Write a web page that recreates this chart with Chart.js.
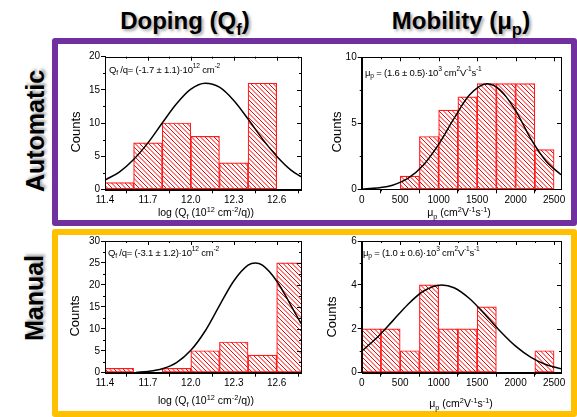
<!DOCTYPE html>
<html>
<head>
<meta charset="utf-8">
<script src="https://cdn.jsdelivr.net/npm/chart.js@4.4.0/dist/chart.umd.min.js"></script>
<style>
  body { margin:0; width:577px; height:417px; background:#fff; position:relative; overflow:hidden;
         font-family: "Liberation Sans", Arial, sans-serif; color:#000; }
  .abs { position:absolute; white-space:nowrap; }
  .frame { position:absolute; box-sizing:border-box; border-radius:3px; }
  #frameAuto { left:52px; top:38px; width:525px; height:188px; border:6px solid #7030a0; }
  #frameManual { left:52px; top:229px; width:525px; height:188px; border:6px solid #ffc000; }
  .colTitle { font-weight:bold; font-size:24px; text-shadow:2px 2px 3px rgba(0,0,0,0.35); transform:translate(-50%,-50%); }
  .rowTitle { font-weight:bold; font-size:25px; text-shadow:2px 2px 3px rgba(0,0,0,0.35); transform:translate(-50%,-50%) rotate(-90deg); }
  .counts { font-size:13px; transform:translate(-50%,-50%) rotate(-90deg); }
  .xtitle { font-size:10.5px; transform:translate(-50%,-50%); }
  .note { font-size:9.5px; letter-spacing:-0.2px; transform:translateY(-50%); }
  sub, sup { font-size:70%; line-height:0; }
  canvas { position:absolute; }
</style>
</head>
<body>
<div class="frame" id="frameAuto"></div>
<div class="frame" id="frameManual"></div>

<div class="abs colTitle" style="left:185px; top:21px;">Doping (Q<sub>f</sub>)</div>
<div class="abs colTitle" style="left:461px; top:21px;">Mobility (μ<sub>p</sub>)</div>
<div class="abs rowTitle" style="left:35px; top:131px;">Automatic</div>
<div class="abs rowTitle" style="left:34px; top:298px;">Manual</div>

<canvas id="dopingAuto" width="245" height="176" style="left:60px; top:46px;"></canvas>
<canvas id="mobilityAuto" width="250" height="176" style="left:320px; top:46px;"></canvas>
<canvas id="dopingManual" width="245" height="176" style="left:60px; top:234px;"></canvas>
<canvas id="mobilityManual" width="250" height="176" style="left:320px; top:234px;"></canvas>

<div class="abs counts" style="left:75px; top:132px;">Counts</div>
<div class="abs counts" style="left:336px; top:132px;">Counts</div>
<div class="abs counts" style="left:74px; top:316px;">Counts</div>
<div class="abs counts" style="left:331px; top:317px;">Counts</div>

<div class="abs xtitle" style="left:206px; top:212px;">log (Q<sub>f</sub> (10<sup>12</sup> cm<sup>-2</sup>/q))</div>
<div class="abs xtitle" style="left:459px; top:212px;">μ<sub>p</sub> (cm<sup>2</sup>V<sup>-1</sup>s<sup>-1</sup>)</div>
<div class="abs xtitle" style="left:206px; top:400px;">log (Q<sub>f</sub> (10<sup>12</sup> cm<sup>-2</sup>/q))</div>
<div class="abs xtitle" style="left:461px; top:403px;">μ<sub>p</sub> (cm<sup>2</sup>V<sup>-1</sup>s<sup>-1</sup>)</div>

<div class="abs note" style="left:109px; top:69px;">Q<sub>f</sub> /q= (-1.7 ± 1.1)·10<sup>12</sup> cm<sup>-2</sup></div>
<div class="abs note" style="left:365px; top:72px;">μ<sub>p</sub> = (1.6 ± 0.5)·10<sup>3</sup> cm<sup>2</sup>V<sup>-1</sup>s<sup>-1</sup></div>
<div class="abs note" style="left:108px; top:252px;">Q<sub>f</sub> /q= (-3.1 ± 1.2)·10<sup>12</sup> cm<sup>-2</sup></div>
<div class="abs note" style="left:363px; top:252px;">μ<sub>p</sub> = (1.0 ± 0.6)·10<sup>3</sup> cm<sup>2</sup>V<sup>-1</sup>s<sup>-1</sup></div>

<script>
// histogram bins (centres), 0.2 wide for doping, 250 wide for mobility
const dopingBins = [11.5, 11.7, 11.9, 12.1, 12.3, 12.5, 12.7];
const mobilityBins = [125, 375, 625, 875, 1125, 1375, 1625, 1875, 2125, 2375];

// counts per bin
const dopingAutoCounts = [1, 7, 10, 8, 4, 16, null];
const dopingManualCounts = [1, null, 1, 5, 7, 4, 25];
const mobilityAutoCounts = [null, null, 1, 4, 6, 7, 8, 8, 8, 3];
const mobilityManualCounts = [2, 2, 1, 4, 2, 2, 3, null, null, 1];

// fitted gaussian curves
const dopingAutoFitX = [11.4, 11.5, 11.6, 11.7, 11.8, 11.9, 12.0, 12.1, 12.2, 12.3, 12.4, 12.5, 12.6, 12.7, 12.77];
const dopingAutoFitY = [1.4, 2.6, 4.5, 7.0, 10.0, 12.9, 15.1, 16.0, 15.4, 13.4, 10.6, 7.6, 5.0, 2.9, 1.9];
const dopingManualFitX = [11.62, 11.7, 11.8, 11.9, 12.0, 12.1, 12.2, 12.3, 12.4, 12.45, 12.5, 12.6, 12.7, 12.77];
const dopingManualFitY = [0.1, 0.3, 0.9, 2.3, 5.1, 9.5, 15.3, 20.9, 24.5, 25.0, 24.5, 20.9, 15.3, 11.2];
const mobilityAutoFitX = [0, 200, 400, 600, 800, 1000, 1200, 1400, 1630, 1800, 2000, 2200, 2400, 2590];
const mobilityAutoFitY = [0.03, 0.1, 0.31, 0.82, 1.82, 3.4, 5.37, 7.14, 8.0, 7.52, 5.96, 3.8, 2.1, 1.1];
const mobilityManualFitX = [0, 200, 400, 600, 800, 1040, 1200, 1400, 1600, 1800, 2000, 2200, 2400, 2590];
const mobilityManualFitY = [0.98, 1.6, 2.35, 3.11, 3.71, 4.0, 3.87, 3.38, 2.66, 1.89, 1.21, 0.7, 0.36, 0.18];

// axis ticks
const dopingTicks = [11.4, 11.7, 12.0, 12.3, 12.6];
const mobilityTicks = [0, 500, 1000, 1500, 2000, 2500];
const dopingAutoY = [0, 5, 10, 15, 20];
const dopingManualY = [0, 5, 10, 15, 20, 25, 30];
const mobilityAutoY = [0, 5, 10];
const mobilityManualY = [0, 2, 4, 6];

const tickFont = { family: '"Liberation Sans", Arial, sans-serif', size: 10 };

// box around the plot with inward ticks on top/right and minor ticks
const frameTicks = {
  id: 'frameTicks',
  afterDatasetsDraw(chart, args, opts) {
    const { ctx, chartArea: a, scales: { x, y } } = chart;
    const mids = arr => arr.slice(1).map((v, i) => (v + arr[i]) / 2).concat([arr[arr.length - 1] + (arr[1] - arr[0]) / 2]);
    ctx.save();
    ctx.strokeStyle = '#000';
    ctx.lineWidth = 1;
    ctx.strokeRect(Math.round(a.left) + 0.5, Math.round(a.top) + 0.5, Math.round(a.right - a.left), Math.round(a.bottom - a.top));
    ctx.beginPath();
    opts.xt.forEach(v => {
      const p = Math.round(x.getPixelForValue(v)) + 0.5;
      ctx.moveTo(p, a.top); ctx.lineTo(p, a.top + 4);
    });
    mids(opts.xt).forEach(v => {
      const p = Math.round(x.getPixelForValue(v)) + 0.5;
      if (p > a.right) return;
      ctx.moveTo(p, a.top); ctx.lineTo(p, a.top + 2);
      ctx.moveTo(p, a.bottom); ctx.lineTo(p, a.bottom + 2);
    });
    opts.yt.forEach(v => {
      const p = Math.round(y.getPixelForValue(v)) + 0.5;
      ctx.moveTo(a.right, p); ctx.lineTo(a.right - 4, p);
    });
    mids(opts.yt).forEach(v => {
      const p = Math.round(y.getPixelForValue(v)) + 0.5;
      if (p < a.top) return;
      ctx.moveTo(a.right, p); ctx.lineTo(a.right - 2, p);
      ctx.moveTo(a.left, p); ctx.lineTo(a.left - 2, p);
    });
    ctx.stroke();
    ctx.restore();
  }
};

// red "\\\" hatch used inside the bars, two lines per 9px tile
function hatch(ctx) {
  const n = 9;
  const c = document.createElement('canvas');
  c.width = n; c.height = n;
  const g = c.getContext('2d');
  g.fillStyle = '#fff';
  g.fillRect(0, 0, n, n);
  g.strokeStyle = '#ff0000';
  g.lineWidth = 1;
  g.beginPath();
  [-n, -n / 2, 0, n / 2, n].forEach(o => {
    g.moveTo(o - 1, -1); g.lineTo(o + n + 1, n + 1);
  });
  g.stroke();
  return ctx.createPattern(c, 'repeat');
}

function histogram(id, p) {
  const canvas = document.getElementById(id);
  const ctx = canvas.getContext('2d');
  return new Chart(ctx, {
    type: 'bar',
    data: {
      datasets: [
        {
          type: 'line',
          data: p.fitX.map((v, i) => ({ x: v, y: p.fitY[i] })),
          borderColor: '#000',
          borderWidth: 1.5,
          pointRadius: 0,
          cubicInterpolationMode: 'monotone',
          order: 0
        },
        {
          data: p.bins.map((v, i) => ({ x: v, y: p.counts[i] })),
          backgroundColor: hatch(ctx),
          borderColor: '#ff1a1a',
          borderWidth: 1.2,
          borderSkipped: false,
          barPercentage: 1,
          categoryPercentage: 1,
          order: 1
        }
      ]
    },
    options: {
      responsive: false,
      animation: false,
      layout: { padding: { top: p.top, right: p.right, left: 0, bottom: 0 } },
      plugins: { legend: { display: false }, tooltip: { enabled: false }, frameTicks: { xt: p.xt, yt: p.yt } },
      scales: {
        x: {
          type: 'linear',
          offset: false,
          min: p.xMin, max: p.xMax,
          afterBuildTicks: s => { s.ticks = p.xt.map(v => ({ value: v })); },
          afterFit: s => { s.height = p.xh; },
          grid: { drawOnChartArea: false, tickLength: 4, color: '#000' },
          border: { color: '#000' },
          ticks: { padding: 1, color: '#000', font: tickFont, callback: p.fmt, maxRotation: 0 }
        },
        y: {
          min: 0, max: p.yt[p.yt.length - 1],
          afterBuildTicks: s => { s.ticks = p.yt.map(v => ({ value: v })); },
          afterFit: s => { s.width = p.yw; },
          grid: { drawOnChartArea: false, tickLength: 4, color: '#000' },
          border: { color: '#000' },
          ticks: { padding: 1, color: '#000', font: tickFont }
        }
      }
    },
    plugins: [frameTicks]
  });
}

const fmtDoping = v => Number(v).toFixed(1);
const fmtMobility = v => String(v);

histogram('dopingAuto', {
  bins: dopingBins, counts: dopingAutoCounts, fitX: dopingAutoFitX, fitY: dopingAutoFitY,
  xt: dopingTicks, yt: dopingAutoY, xMin: 11.4, xMax: 12.77, fmt: fmtDoping,
  top: 10.7, right: 4, yw: 45, xh: 32.7
});
histogram('mobilityAuto', {
  bins: mobilityBins, counts: mobilityAutoCounts, fitX: mobilityAutoFitX, fitY: mobilityAutoFitY,
  xt: mobilityTicks, yt: mobilityAutoY, xMin: 0, xMax: 2590, fmt: fmtMobility,
  top: 11.3, right: 9, yw: 41.7, xh: 32.7
});
histogram('dopingManual', {
  bins: dopingBins, counts: dopingManualCounts, fitX: dopingManualFitX, fitY: dopingManualFitY,
  xt: dopingTicks, yt: dopingManualY, xMin: 11.4, xMax: 12.77, fmt: fmtDoping,
  top: 6.7, right: 4, yw: 45, xh: 37.3
});
histogram('mobilityManual', {
  bins: mobilityBins, counts: mobilityManualCounts, fitX: mobilityManualFitX, fitY: mobilityManualFitY,
  xt: mobilityTicks, yt: mobilityManualY, xMin: 0, xMax: 2590, fmt: fmtMobility,
  top: 6.7, right: 9, yw: 41.7, xh: 37.3
});
</script>
</body>
</html>
